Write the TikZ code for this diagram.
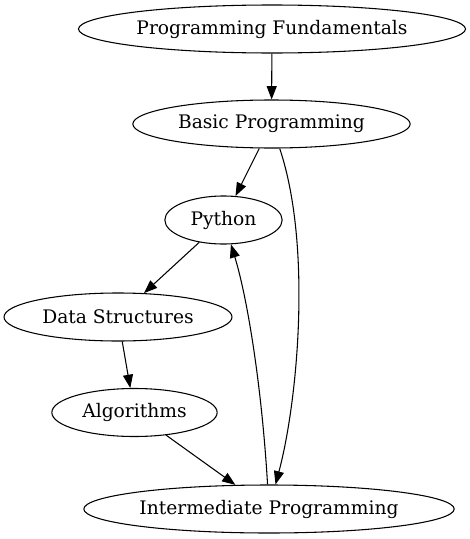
\documentclass[tikz,border=0pt]{standalone}
\usepackage{fontspec}
\setmainfont{DejaVu Serif}
\usetikzlibrary{shapes.geometric,arrows.meta}

\begin{document}
\begin{tikzpicture}[x=0.75pt,y=-0.75pt,
    topic/.style={draw,ellipse,line width=0.8pt,inner xsep=1pt,minimum height=36pt,
      font=\fontsize{14}{16}\selectfont},
    edge/.style={line width=0.8pt,-{Triangle[length=10pt,width=7.5pt]}}]
  \useasboundingbox (0,0) rectangle (469,539);

  \node[topic,minimum width=287pt] (fund) at (272,29) {Programming Fundamentals};
  \node[topic,minimum width=208pt] (basic) at (271.5,124) {Basic Programming};
  \node[topic,minimum width=88pt] (python) at (223.5,220) {Python};
  \node[topic,minimum width=171pt] (data) at (118,317) {Data Structures};
  \node[topic,minimum width=124pt] (algo) at (134.5,412.5) {Algorithms};
  \node[topic,minimum width=276pt] (inter) at (269,509) {Intermediate Programming};

  \draw[edge] (fund) -- (basic);
  \draw[edge] (basic) -- (python);
  \draw[edge] (basic) .. controls (312,245) and (298,400) .. (inter);
  \draw[edge] (python) -- (data);
  \draw[edge] (data) -- (algo);
  \draw[edge] (algo) -- (inter);
  \draw[edge] (inter) .. controls (262,390) and (248,300) .. (python);
\end{tikzpicture}
\end{document}
